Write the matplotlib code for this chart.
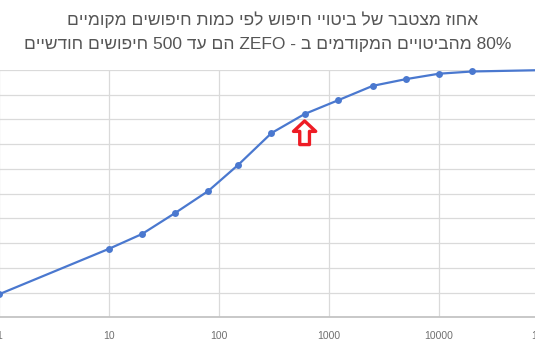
import re
import matplotlib
matplotlib.use("Agg")
import matplotlib.pyplot as plt
import matplotlib.transforms as mtransforms
from matplotlib.ticker import FixedLocator, FixedFormatter, NullFormatter

plt.rcParams['font.family'] = ['Liberation Sans', 'DejaVu Sans']

# ---- data ----
title_line1 = "אחוז מצטבר של ביטויי חיפוש לפי כמות חיפושים מקומיים"
title_line2 = "80% מהביטויים המקודמים ב - ZEFO הם עד 500 חיפושים חודשיים"
monthly_searches = [1, 10, 20, 40, 80, 150, 300, 600, 1200, 2500, 5000, 10000, 20000, 100000]
cumulative_pct = [9.3, 27.7, 33.7, 42.2, 51.1, 61.7, 74.5, 82.2, 87.7, 93.6, 96.3, 98.5, 99.4, 100.0]
x_ticks = [1, 10, 100, 1000, 10000, 100000]
x_tick_labels = ["1", "10", "100", "1000", "10000", "100000"]
y_ticks = [0, 10, 20, 30, 40, 50, 60, 70, 80, 90, 100]
highlight_x = 600
highlight_y = 82.2


def visual(s):
    """Logical-order RTL text -> left-to-right visual glyph order."""
    r = s[::-1]
    return re.sub(r"[A-Za-z0-9%]+", lambda m: m.group(0)[::-1], r)


W, H = 535, 350
fig = plt.figure(figsize=(W / 100, H / 100), dpi=100)

ax_left_px = -12
ax_width_px = 572
ax_bottom_px = 32.7
ax_height_px = 247.3
ax = fig.add_axes([ax_left_px / W, ax_bottom_px / H, ax_width_px / W, ax_height_px / H])

ax.set_xscale('log')
ax.set_xlim(10 ** -0.1, 10 ** 5.1)
ax.set_ylim(0, 100)

ax.xaxis.set_major_locator(FixedLocator(x_ticks))
ax.xaxis.set_major_formatter(FixedFormatter(x_tick_labels))
ax.xaxis.set_minor_locator(FixedLocator([]))
ax.yaxis.set_major_locator(FixedLocator(y_ticks))
ax.yaxis.set_major_formatter(NullFormatter())

ax.grid(True, axis='both', color='#dadada', linewidth=0.9)
ax.set_axisbelow(True)
for side in ['top', 'right', 'left']:
    ax.spines[side].set_visible(False)
ax.spines['bottom'].set_color('#c4c4c4')
ax.spines['bottom'].set_linewidth(1.3)

ax.tick_params(axis='x', length=0, pad=10, labelsize=7.5, labelcolor='#707070')
ax.tick_params(axis='y', length=0)

ax.plot(monthly_searches, cumulative_pct, color='#4a78cf', linewidth=1.6,
        marker='o', markersize=5, markeredgewidth=0, clip_on=False, zorder=3)

# red outlined arrow pointing up at the highlighted point
tip_tr = mtransforms.offset_copy(ax.transData, fig=fig, x=0, y=-5, units='points')
tail_tr = mtransforms.offset_copy(ax.transData, fig=fig, x=0, y=-22, units='points')
ax.annotate('', xy=(highlight_x, highlight_y), xycoords=tip_tr,
            xytext=(highlight_x, highlight_y), textcoords=tail_tr,
            arrowprops=dict(arrowstyle='simple,head_width=1.6,head_length=0.75,tail_width=0.7',
                            fc='white', ec='#ee1c25', lw=2.4, shrinkA=0, shrinkB=0),
            zorder=4)

fig.text(0.51, 1 - 20 / H, visual(title_line1), ha='center', va='center',
         fontsize=12.5, color='#555555')
fig.text(0.50, 1 - 44 / H, visual(title_line2), ha='center', va='center',
         fontsize=12.5, color='#555555')

fig.savefig('out.png', dpi=100)
